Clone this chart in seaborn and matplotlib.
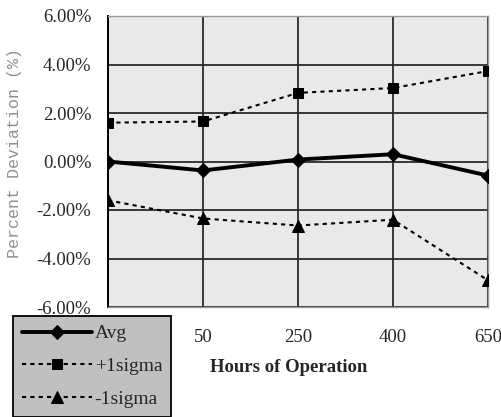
import numpy as np
import pandas as pd
import matplotlib
matplotlib.use("Agg")
import matplotlib.pyplot as plt
import seaborn as sns
from matplotlib.ticker import FuncFormatter

# data (percent deviation)
hours = ["0", "50", "250", "400", "650"]
avg = [0.00, -0.37, 0.08, 0.30, -0.58]
plus_sigma = [1.60, 1.65, 2.83, 3.03, 3.73]
minus_sigma = [-1.60, -2.35, -2.64, -2.40, -4.90]

series_names = ["Avg", "+1sigma", "-1sigma"]

rows = []
for name, vals in zip(series_names, [avg, plus_sigma, minus_sigma]):
    for h, v in zip(hours, vals):
        rows.append({"hours": h, "value": v, "series": name})
df = pd.DataFrame(rows)

sns.set_theme(style="white")
plt.rcParams["font.family"] = ["Liberation Serif", "DejaVu Serif"]

fig = plt.figure(figsize=(5.01, 4.17), dpi=100)
ax = fig.add_axes([108 / 501, 1 - 307 / 417, 380 / 501, 291 / 417])
ax.set_facecolor("#e9e9e9")

styles = {
    "Avg": dict(lw=2.8, ls="-", marker="D", ms=7),
    "+1sigma": dict(lw=1.5, ls=(0, (2.0, 2.0)), marker="s", ms=7.5),
    "-1sigma": dict(lw=1.5, ls=(0, (2.0, 2.0)), marker="^", ms=8.5),
}

for name in series_names:
    sub = df[df["series"] == name]
    st = styles[name]
    sns.lineplot(
        data=sub, x="hours", y="value", ax=ax, sort=False,
        color="black", linewidth=st["lw"], linestyle=st["ls"],
        marker=st["marker"], markersize=st["ms"], markeredgecolor="black",
        label=name, legend=False, zorder=5,
    )

ax.set_xlim(0, len(hours) - 1)
ax.set_ylim(-6, 6)
ax.set_yticks(np.arange(-6, 6.1, 2))
ax.yaxis.set_major_formatter(FuncFormatter(lambda v, p: f"{v:.2f}%"))

ax.grid(True, color="#2a2a2a", linewidth=1.3)
ax.set_axisbelow(True)
for side in ["top", "right", "bottom"]:
    ax.spines[side].set_color("#9a9a9a")
    ax.spines[side].set_linewidth(1.0)
ax.spines["left"].set_color("black")
ax.spines["left"].set_linewidth(1.4)

ax.tick_params(axis="y", direction="out", length=8, width=1.2, color="black",
               labelsize=13.5, pad=4)
ax.tick_params(axis="x", length=0, labelsize=13.5, pad=16)
ax.set_xlabel("")
ax.set_ylabel("")

fig.text(289 / 501, 1 - 368 / 417, "Hours of Operation", ha="center", va="center",
         fontsize=13.5, fontweight="bold")
fig.text(15 / 501, 1 - 153 / 417, "Percent Deviation (%)", rotation=90,
         ha="center", va="center", fontsize=12, color="#909090",
         family=["Liberation Mono", "DejaVu Sans Mono"])

handles, labels = ax.get_legend_handles_labels()
leg = fig.legend(handles, labels, loc="upper left",
                 bbox_to_anchor=(13 / 501, 1 - 316 / 417),
                 frameon=True, fancybox=False, edgecolor="black",
                 facecolor="#c0c0c0", framealpha=1, fontsize=14,
                 handlelength=3.6, handletextpad=0.15, labelspacing=0.78,
                 borderpad=0.45, borderaxespad=0)
leg.get_frame().set_linewidth(1.3)

fig.savefig("out.png", dpi=100)
